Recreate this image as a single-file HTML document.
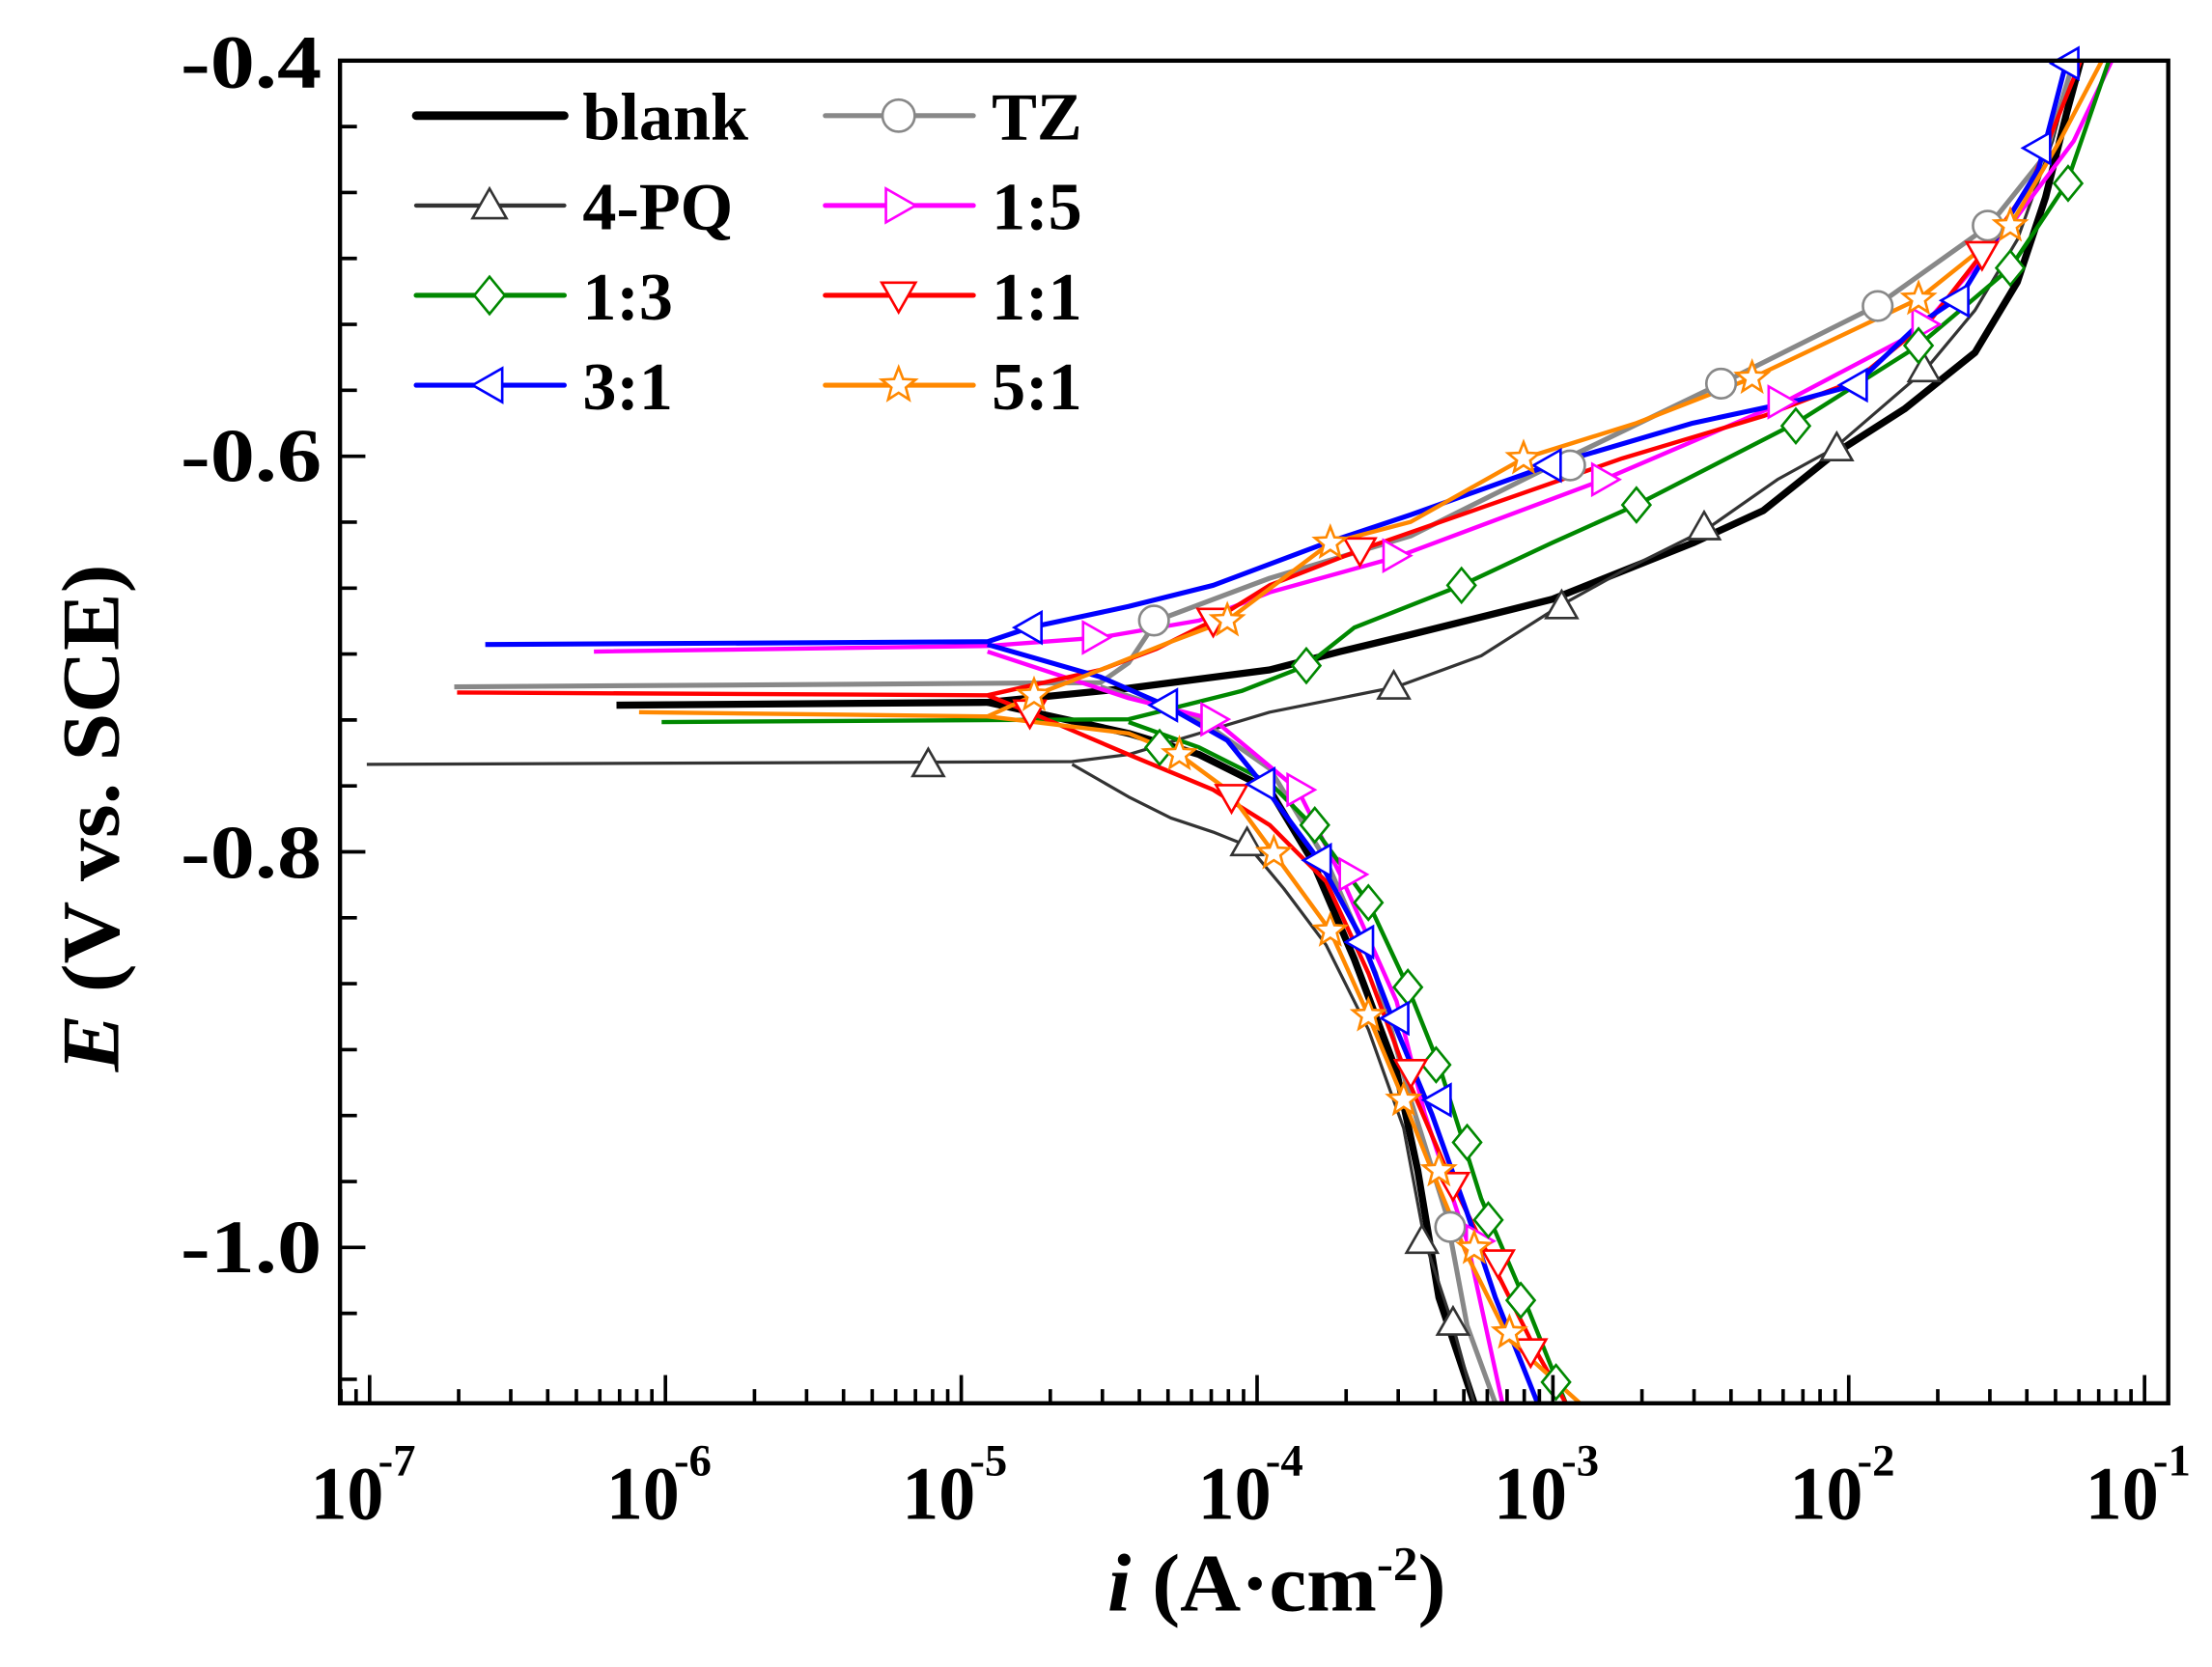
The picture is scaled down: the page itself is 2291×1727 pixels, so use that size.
<!DOCTYPE html>
<html><head><meta charset="utf-8"><style>
html,body{margin:0;padding:0;background:#fff;}
svg{display:block;}
</style></head><body>
<svg id="s" width="2291" height="1727" viewBox="0 0 1568 1182" xmlns="http://www.w3.org/2000/svg" font-family="Liberation Serif, serif" font-weight="bold">
<rect width="1568" height="1182" fill="#fff"/>
<g id="curves" fill="none" stroke-linejoin="round"></g>
<g id="marks"></g>
<rect x="241" y="43" width="1296" height="952" fill="none" stroke="#000" stroke-width="3"/>
<g id="ticks" stroke="#000" stroke-width="2.5"></g>
<g font-size="54" text-anchor="end">
<text x="228" y="62" textLength="100" lengthAdjust="spacingAndGlyphs">-0.4</text>
<text x="228" y="341" textLength="100" lengthAdjust="spacingAndGlyphs">-0.6</text>
<text x="228" y="622" textLength="100" lengthAdjust="spacingAndGlyphs">-0.8</text>
<text x="228" y="902" textLength="100" lengthAdjust="spacingAndGlyphs">-1.0</text>
</g>
<g id="xl" font-size="54"></g>
<text x="785" y="1142" font-size="58" textLength="240" lengthAdjust="spacingAndGlyphs"><tspan font-style="italic">i</tspan> (A·cm<tspan font-size="34" dy="-22">-2</tspan><tspan dy="22">)</tspan></text>
<text transform="translate(84,580) rotate(-90)" font-size="58" text-anchor="middle" textLength="360" lengthAdjust="spacingAndGlyphs"><tspan font-style="italic">E</tspan> (V vs. SCE)</text>
<g id="leg" font-size="48"></g>
</svg>
<script>
const NS="http://www.w3.org/2000/svg";
function el(p,t,a){const e=document.createElementNS(NS,t);for(const k in a)e.setAttribute(k,a[k]);p.appendChild(e);return e;}
const C=document.getElementById('curves'),M=document.getElementById('marks'),T=document.getElementById('ticks');
const x0=262,dec=209.7;
for(let d=0;d<6;d++){for(let m=1;m<10;m++){const x=x0+(d+Math.log10(m))*dec;el(T,'line',{x1:x,x2:x,y1:995,y2:m==1?975:985});}}
el(T,'line',{x1:x0+6*dec,x2:x0+6*dec,y1:995,y2:975});
for(let m=8;m<10;m++){const x=x0+(-1+Math.log10(m))*dec;if(x>241)el(T,'line',{x1:x,x2:x,y1:995,y2:985});}
const yd=280.5/6;
for(let k=0;k<=20;k++){const y=43+k*yd;if(y>995)break;el(T,'line',{x1:241,x2:(k%6==0)?259:253,y1:y,y2:y});}
const XL=document.getElementById('xl');
for(let d=0;d<=6;d++){const x=x0+d*dec;const t=el(XL,'text',{x:x-42,y:1077,textLength:52,lengthAdjust:'spacingAndGlyphs'});t.textContent='10';const s=el(XL,'text',{x:x+6,y:1046,'font-size':32});s.textContent='-'+(7-d);}
function sh(type,x,y,col,r){r=r||11;const a={fill:'#fff',stroke:col,'stroke-width':1.8};
 if(type=='c'){a.cx=x;a.cy=y;a.r=r*0.95;return el(M,'circle',a);}
 let p;
 if(type=='u')p=[[x,y-r],[x+r,y+r*0.75],[x-r,y+r*0.75]];
 if(type=='d')p=[[x,y+r],[x+r,y-r*0.75],[x-r,y-r*0.75]];
 if(type=='r')p=[[x+r,y],[x-r*0.75,y-r],[x-r*0.75,y+r]];
 if(type=='l')p=[[x-r,y],[x+r*0.75,y-r],[x+r*0.75,y+r]];
 if(type=='dm')p=[[x,y-r*1.1],[x+r*0.9,y],[x,y+r*1.1],[x-r*0.9,y]];
 if(type=='s'){p=[];for(let i=0;i<10;i++){const rr=i%2?r*0.45:r*1.05,an=-Math.PI/2+i*Math.PI/5;p.push([x+rr*Math.cos(an),y+rr*Math.sin(an)]);}}
 a.points=p.map(q=>q.join(',')).join(' ');return el(M,'polygon',a);}
const S=[
{c:'#000',w:5,m:null,a:[[437,500],[700,498],[800,488],[900,475],[950,462],[1000,450],[1100,425],[1200,385],[1250,362],[1300,322],[1350,290],[1400,250],[1430,200],[1450,140],[1465,80],[1475,43]],
 k:[[700,498],[800,520],[850,535],[900,560],[930,610],[960,680],[990,760],[1005,830],[1020,920],[1045,995]],p:[]},
{c:'#333',w:2.2,m:'u',a:[[260,542],[760,540],[800,535],[850,520],[900,505],[990,487],[1050,465],[1105,430],[1150,405],[1210,375],[1260,340],[1300,318],[1365,262],[1400,220],[1430,170],[1455,100],[1470,43]],
 k:[[760,542],[800,565],[830,580],[860,590],[885,600],[910,630],[940,670],[970,730],[995,800],[1010,880],[1030,940],[1045,995]],
 p:[[658,542],[884,598],[988,487],[1107,430],[1208,374],[1302,318],[1364,262],[1008,880],[1030,938]]},
{c:'#888',w:3.5,m:'c',a:[[322,487],[780,484],[800,470],[820,440],[900,410],[1000,380],[1100,330],[1220,272],[1330,217],[1410,160],[1450,110],[1470,43]],
 k:[[780,487],[850,510],[900,545],[940,610],[975,690],[1000,780],[1025,860],[1040,940],[1060,995]],
 p:[[818,440],[1113,330],[1220,272],[1331,217],[1409,160],[1028,870]]},
{c:'#f0f',w:3,m:'r',a:[[421,462],[700,458],[780,452],[850,440],[900,420],[990,395],[1137,340],[1265,285],[1360,235],[1425,160],[1470,100],[1497,43]],
 k:[[700,462],[800,495],[860,510],[920,560],[950,620],[990,710],[1010,790],[1040,880],[1065,995]],
 p:[[776,452],[989,394],[1137,340],[1262,285],[1364,230],[860,510],[921,560],[958,620],[1048,880]]},
{c:'#080',w:3,m:'dm',a:[[469,512],[800,510],[880,490],[926,472],[960,445],[1036,415],[1100,385],[1160,358],[1273,300],[1360,245],[1425,190],[1465,130],[1495,43]],
 k:[[800,512],[850,530],[900,555],[930,585],[970,640],[998,700],[1020,755],[1050,850],[1080,920],[1110,995]],
 p:[[926,472],[1036,415],[1160,358],[1273,302],[1360,245],[1425,190],[1466,130],[822,530],[932,585],[970,640],[998,700],[1018,755],[1040,810],[1055,865],[1078,922],[1103,980]]},
{c:'#f00',w:3,m:'d',a:[[324,491],[700,493],[780,475],[820,460],[860,440],[900,415],[964,390],[1050,360],[1150,325],[1250,295],[1315,270],[1370,225],[1405,180],[1440,130],[1475,43]],
 k:[[700,493],[730,505],[800,535],[860,560],[900,585],[940,625],[970,690],[1000,770],[1030,840],[1060,900],[1090,960],[1110,995]],
 p:[[730,505],[860,440],[964,390],[873,565],[1000,760],[1030,840],[1062,895],[1085,958],[1405,180]]},
{c:'#00f',w:3.5,m:'l',a:[[344,457],[700,455],[730,445],[800,430],[860,415],[940,385],[1000,365],[1098,330],[1200,300],[1270,285],[1315,273],[1360,230],[1390,210],[1445,120],[1465,43]],
 k:[[700,457],[780,480],[826,500],[870,525],[895,556],[935,610],[965,665],[990,730],[1015,790],[1040,860],[1060,920],[1090,995]],
 p:[[730,445],[1098,330],[1315,273],[1387,213],[1445,105],[1465,45],[826,500],[895,556],[935,610],[965,668],[990,722],[1020,780]]},
{c:'#f80',w:3,m:'s',a:[[453,505],[700,508],[733,493],[780,475],[830,455],[870,440],[943,385],[1000,370],[1080,325],[1160,300],[1242,268],[1360,212],[1425,160],[1460,100],[1490,43]],
 k:[[700,508],[800,520],[836,535],[870,560],[903,605],[943,660],[970,720],[995,780],[1015,830],[1040,890],[1070,950],[1120,995]],
 p:[[733,493],[870,440],[943,385],[1080,325],[1242,268],[1360,212],[1425,160],[836,535],[903,605],[943,660],[970,720],[995,780],[1020,830],[1045,885],[1070,945]]}
];
for(const s of S){for(const br of [s.a,s.k])el(C,'polyline',{points:br.map(q=>q.join(',')).join(' '),stroke:s.c,'stroke-width':s.w});
 if(s.m)for(const q of s.p)sh(s.m,q[0],q[1],s.c);}
const L=document.getElementById('leg');
const lg=[['blank','#000',6,null,0,0],['TZ','#888',3.5,'c',1,0],['4-PQ','#333',3,'u',0,1],['1:5','#f0f',3.5,'r',1,1],['1:3','#080',3.5,'dm',0,2],['1:1','#f00',3.5,'d',1,2],['3:1','#00f',3.5,'l',0,3],['5:1','#f80',3.5,'s',1,3]];
for(const g of lg){const x1=g[4]?585:295,y=82+g[5]*63.7;
 el(L,'line',{x1:x1,x2:x1+105,y1:y,y2:y,stroke:g[1],'stroke-width':g[2],'stroke-linecap':'round'});
 if(g[3]){const m=sh(g[3],x1+52,y,g[1],12);L.appendChild(m);}
 const t=el(L,'text',{x:x1+118,y:y+17});t.textContent=g[0];}
</script>
</body></html>
